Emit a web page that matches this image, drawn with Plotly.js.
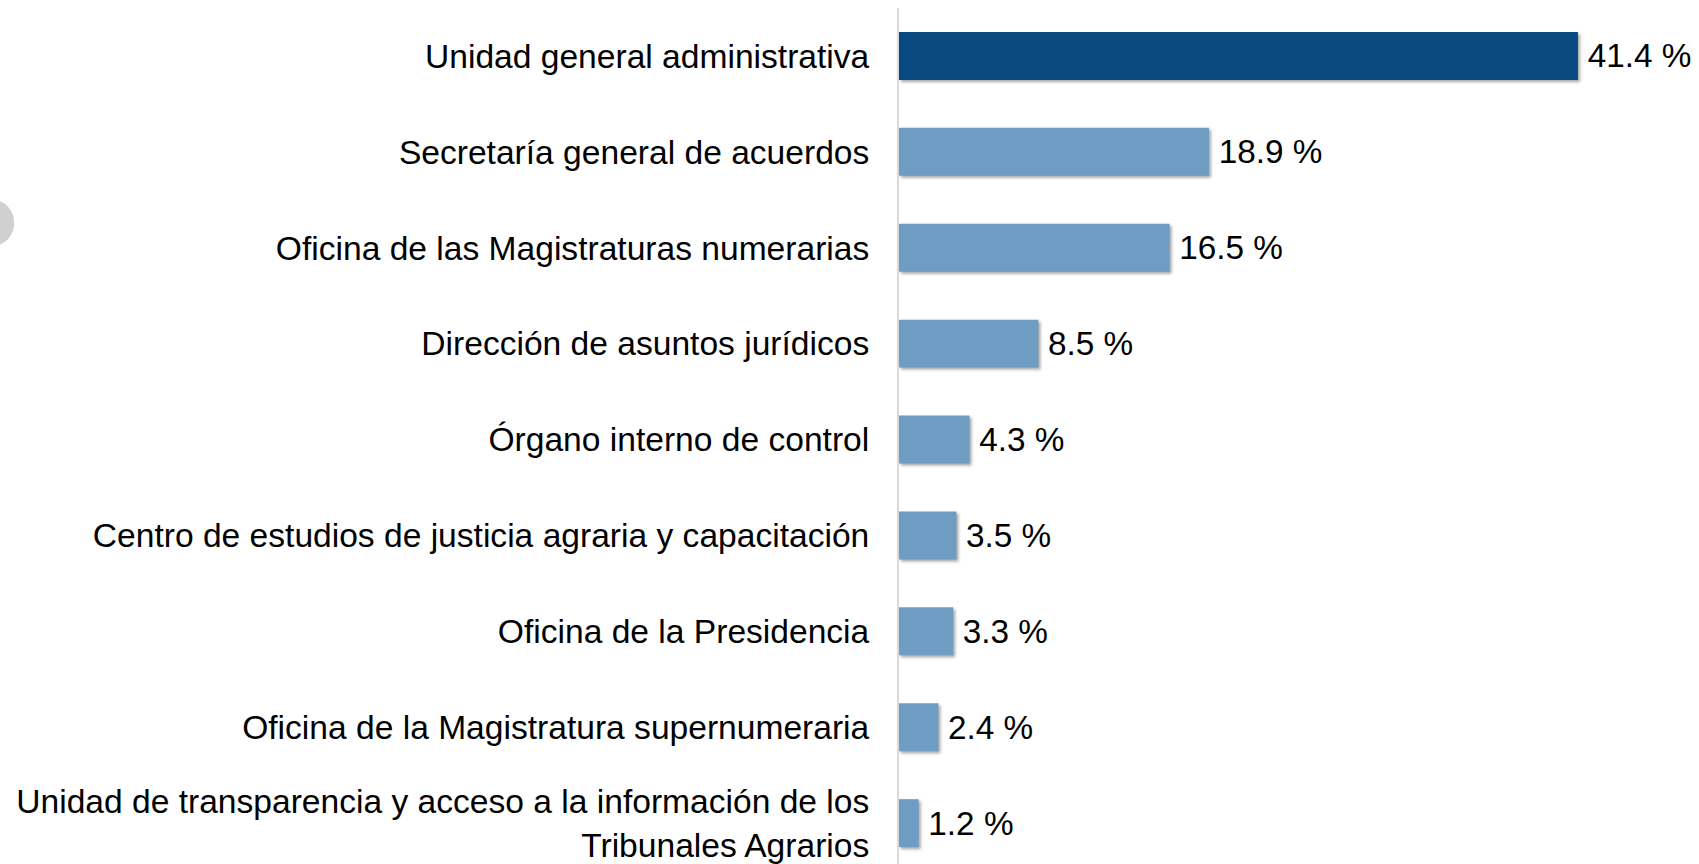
<!DOCTYPE html>
<html>
<head>
<meta charset="utf-8">
<script src="https://cdn.plot.ly/plotly-3.0.1.min.js"></script>
<style>
html, body { margin: 0; padding: 0; background: #fff; }
#chart { width: 1699px; height: 864px; }
.barlayer .point path { filter: drop-shadow(2px 2px 1.5px rgba(0,0,0,0.35)); }
</style>
</head>
<body>
<div id="chart"></div>
<script>
const categories = [
  "Unidad general administrativa",
  "Secretaría general de acuerdos",
  "Oficina de las Magistraturas numerarias",
  "Dirección de asuntos jurídicos",
  "Órgano interno de control",
  "Centro de estudios de justicia agraria y capacitación",
  "Oficina de la Presidencia",
  "Oficina de la Magistratura supernumeraria",
  "Unidad de transparencia y acceso a la información de los<br>Tribunales Agrarios"
];
const values = [41.4, 18.9, 16.5, 8.5, 4.3, 3.5, 3.3, 2.4, 1.2];
const barColors = ["#0b4a80", "#6f9cc3", "#6f9cc3", "#6f9cc3", "#6f9cc3", "#6f9cc3", "#6f9cc3", "#6f9cc3", "#6f9cc3"];
const valueLabels = values.map(v => "\u2009" + v.toFixed(1) + " %");

const FONT = "Liberation Sans, Arial, sans-serif";

const trace = {
  type: "bar",
  orientation: "h",
  x: values,
  y: categories,
  marker: { color: barColors, line: { width: 0 } },
  text: valueLabels,
  textposition: "outside",
  cliponaxis: false,
  textfont: { family: FONT, size: 33.3, color: "#000" },
  hoverinfo: "x+y"
};

const layout = {
  width: 1699,
  height: 864,
  margin: { l: 899, r: 0, t: 8, b: 0, pad: 0 },
  paper_bgcolor: "#fff",
  plot_bgcolor: "#fff",
  showlegend: false,
  bargap: 0.5,
  font: { family: FONT, size: 33.6, color: "#000" },
  xaxis: {
    range: [0, 48.78],
    showgrid: false,
    zeroline: false,
    showticklabels: false,
    ticks: "",
    showline: false,
    fixedrange: true
  },
  yaxis: {
    type: "category",
    range: [8.426, -0.5],
    showgrid: false,
    zeroline: false,
    ticks: "",
    showline: true,
    linecolor: "#d9d9d9",
    linewidth: 2,
    ticklabelstandoff: 21,
    tickfont: { family: FONT, size: 33.6, color: "#000" },
    fixedrange: true
  },
  shapes: [{
    type: "circle",
    xref: "paper", yref: "paper",
    x0: -1.16, x1: -1.106,
    y0: 0.722, y1: 0.776,
    fillcolor: "#d0d0d0",
    line: { width: 0 },
    layer: "above"
  }]
};

Plotly.newPlot("chart", [trace], layout, { displayModeBar: false, staticPlot: true });
</script>
</body>
</html>
